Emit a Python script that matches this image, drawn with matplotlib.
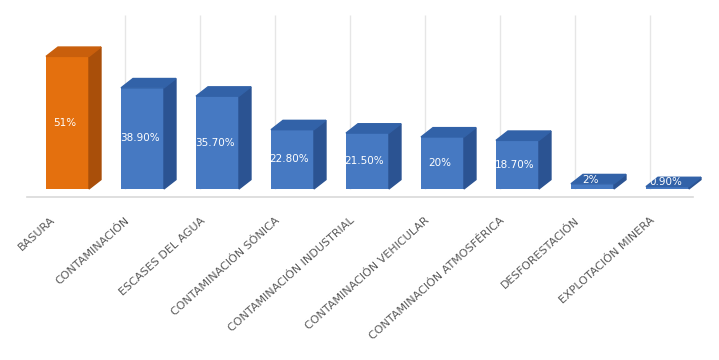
import matplotlib.pyplot as plt
from matplotlib.patches import Polygon

categorias = ['BASURA', 'CONTAMINACIÓN', 'ESCASES DEL AGUA', 'CONTAMINACIÓN SÓNICA',
              'CONTAMINACIÓN INDUSTRIAL', 'CONTAMINACIÓN VEHICULAR',
              'CONTAMINACIÓN ATMOSFÉRICA', 'DESFORESTACIÓN', 'EXPLOTACIÓN MINERA']
valores = [51, 38.9, 35.7, 22.8, 21.5, 20, 18.7, 2, 0.9]
etiquetas = ['51%', '38.90%', '35.70%', '22.80%', '21.50%', '20%', '18.70%', '2%', '0.90%']

# colores: frente, lado, tapa
naranja = ('#E4700E', '#A94F0A', '#C95F0C')
azul = ('#4679C2', '#2B5392', '#3262A8')

fig = plt.figure(figsize=(7.19, 3.6), dpi=100)
ax = fig.add_axes([0, 0, 1, 1])
ax.set_xlim(-0.9, 8.687)
ax.set_ylim(-65.8, 72.7)
ax.axis('off')

w = 0.573      # ancho del frente
dx = 0.16      # profundidad en x
dy = 3.6       # profundidad en y
n = len(valores)

# rejilla vertical y piso
ax.vlines([k - 0.233 for k in range(1, n)], 0, 67, color='#E6E6E6', lw=1, zorder=0)
ax.plot([-0.54, n - 1 + 0.34], [-3.1, -3.1], color='#D9D9D9', lw=1.2, zorder=0)

for i, v in enumerate(valores):
    fr, lado, tapa = naranja if i == 0 else azul
    x0 = i - w / 2
    x1 = i + w / 2
    ax.bar(i, v, width=w, color=fr, zorder=2)
    ax.add_patch(Polygon([(x1, 0), (x1 + dx, dy), (x1 + dx, v + dy), (x1, v)],
                         closed=True, color=lado, zorder=2))
    ax.add_patch(Polygon([(x0, v), (x0 + dx, v + dy), (x1 + dx, v + dy), (x1, v)],
                         closed=True, color=tapa, zorder=2))
    if v > 5:
        ax.text(i - 0.04, v / 2, etiquetas[i], color='white', fontsize=7.5,
                ha='center', va='center', zorder=3)
    else:
        ax.text(i - 0.02, v + 1.6, etiquetas[i], color='white', fontsize=7.5,
                ha='center', va='center', zorder=3)
    ax.text(i - 0.19, -11.5, categorias[i], color='#595959', fontsize=8,
            rotation=42, rotation_mode='anchor', ha='right', va='center')

plt.savefig('out.png', dpi=100)
